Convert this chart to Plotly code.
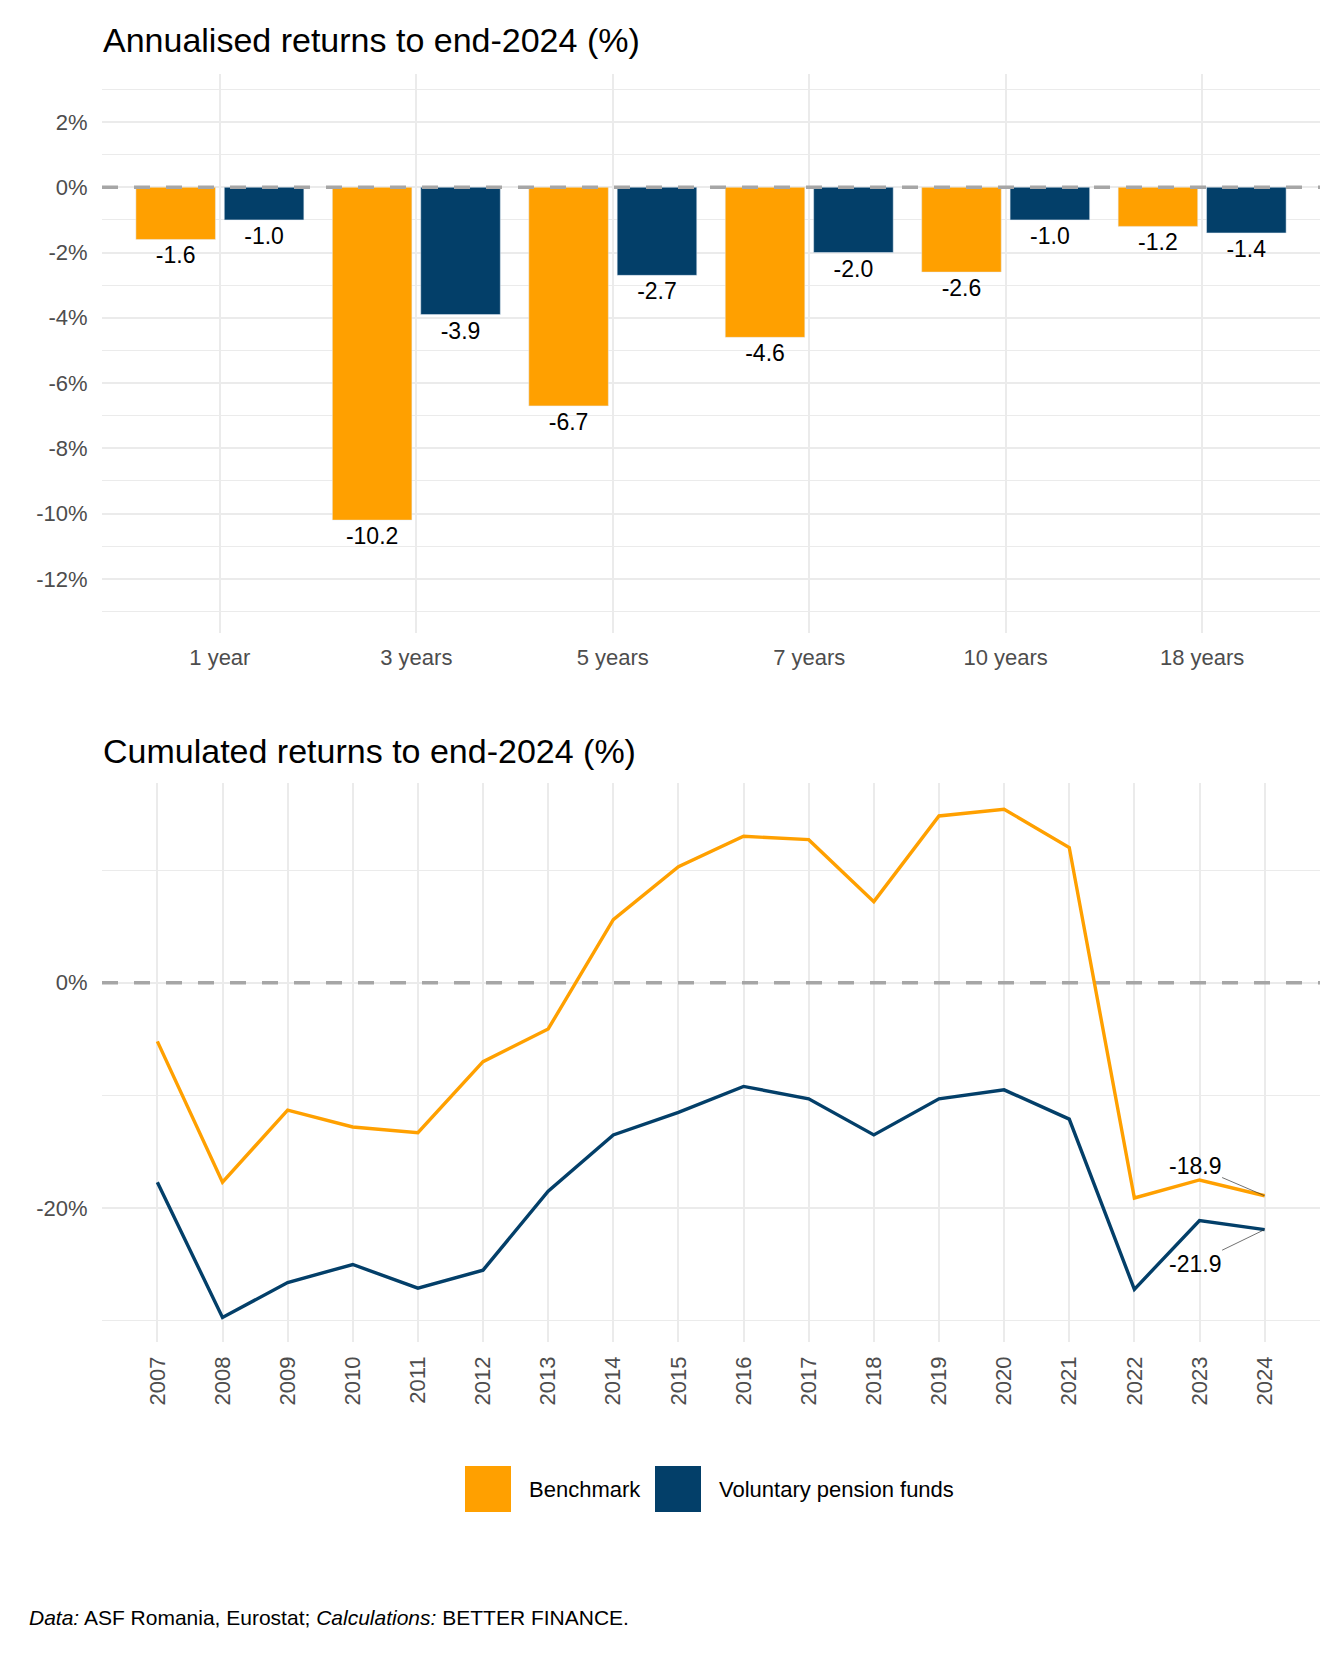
import plotly.graph_objects as go

# ---------------- data ----------------
periods = ["1 year", "3 years", "5 years", "7 years", "10 years", "18 years"]
ann_benchmark = [-1.6, -10.2, -6.7, -4.6, -2.6, -1.2]
ann_vpf = [-1.0, -3.9, -2.7, -2.0, -1.0, -1.4]

years = list(range(2007, 2025))
cum_benchmark = [-5.2, -17.7, -11.3, -12.8, -13.3, -7.0, -4.1, 5.6, 10.3, 13.0,
                 12.7, 7.2, 14.8, 15.4, 12.0, -19.1, -17.5, -18.9]
cum_vpf = [-17.7, -29.7, -26.6, -25.0, -27.1, -25.5, -18.5, -13.5, -11.5, -9.2,
           -10.3, -13.5, -10.3, -9.5, -12.1, -27.2, -21.1, -21.9]

series_names = ["Benchmark", "Voluntary pension funds"]
top_major = [-12, -10, -8, -6, -4, -2, 0, 2]
top_minor = [-13, -11, -9, -7, -5, -3, -1, 1, 3]
bot_major = [-20, 0]
bot_minor = [-30, -10, 10]

# ---------------- style ----------------
OFF = 8  # page body margin compensation
W, H = 1344 - OFF, 1680 - OFF
ORANGE = "#FFA000"
NAVY = "#033F69"
GRID = "#EBEBEB"
TICK = "#4D4D4D"
ZERO = "#A6A6A6"
FONT = "Liberation Sans, Arial, sans-serif"
TOP_YRANGE = [-13.65, 3.47]
BOT_XRANGE = [2006.15, 2024.85]
BOT_YRANGE = [-31.85, 17.7]


def px_x(p):
    return (p - OFF) / W


def px_y(p):
    return 1 - (p - OFF) / H


xdom = [px_x(102), px_x(1320)]
top_dom = [px_y(632.7), px_y(74)]
bot_dom = [px_y(1341.7), px_y(783.3)]

fig = go.Figure()

fig.add_trace(go.Bar(
    x=periods, y=ann_benchmark, name=series_names[0], marker_color=ORANGE,
    text=[f"{v:.1f}" for v in ann_benchmark], textposition="outside",
    textfont=dict(size=23, color="black", family=FONT), cliponaxis=False,
    constraintext="none", xaxis="x", yaxis="y", showlegend=False))
fig.add_trace(go.Bar(
    x=periods, y=ann_vpf, name=series_names[1], marker_color=NAVY,
    text=[f"{v:.1f}" for v in ann_vpf], textposition="outside",
    textfont=dict(size=23, color="black", family=FONT), cliponaxis=False,
    constraintext="none", xaxis="x", yaxis="y", showlegend=False))

# zero reference line for the lower panel (drawn beneath the series lines)
fig.add_trace(go.Scatter(
    x=BOT_XRANGE, y=[0, 0], mode="lines", hoverinfo="skip",
    line=dict(color=ZERO, width=3.5, dash="16px,16px"),
    xaxis="x2", yaxis="y2", showlegend=False))

fig.add_trace(go.Scatter(
    x=years, y=cum_benchmark, mode="lines", name=series_names[0],
    line=dict(color=ORANGE, width=3.4), xaxis="x2", yaxis="y2", showlegend=False))
fig.add_trace(go.Scatter(
    x=years, y=cum_vpf, mode="lines", name=series_names[1],
    line=dict(color=NAVY, width=3.4), xaxis="x2", yaxis="y2", showlegend=False))

tickfont = dict(size=22, color=TICK, family=FONT)

fig.update_layout(
    width=W, height=H,
    margin=dict(l=0, r=0, t=0, b=0),
    paper_bgcolor="white", plot_bgcolor="white",
    font=dict(family=FONT),
    barmode="group", bargap=0.1, bargroupgap=0.1,
    showlegend=False,
    xaxis=dict(domain=xdom, anchor="y", type="category", range=[-0.6, 5.6],
               showgrid=True, gridcolor=GRID, gridwidth=1.8, zeroline=False,
               showline=False, ticks="outside", ticklen=5,
               tickcolor="rgba(0,0,0,0)", tickfont=tickfont),
    yaxis=dict(domain=top_dom, anchor="x", range=TOP_YRANGE,
               tickmode="array", tickvals=top_major,
               ticktext=[f"{v}%" for v in top_major],
               showgrid=True, gridcolor=GRID, gridwidth=1.8, zeroline=False,
               showline=False, ticks="outside", ticklen=9,
               tickcolor="rgba(0,0,0,0)", tickfont=tickfont,
               minor=dict(tickmode="array", tickvals=top_minor, showgrid=True,
                          gridcolor=GRID, gridwidth=1, ticks="")),
    xaxis2=dict(domain=xdom, anchor="y2", range=BOT_XRANGE,
                tickmode="array", tickvals=years, ticktext=[str(y) for y in years],
                tickangle=-90, showgrid=True, gridcolor=GRID, gridwidth=1.8,
                zeroline=False, showline=False, ticks="outside", ticklen=5,
                tickcolor="rgba(0,0,0,0)", tickfont=tickfont),
    yaxis2=dict(domain=bot_dom, anchor="x2", range=BOT_YRANGE,
                tickmode="array", tickvals=bot_major,
                ticktext=[f"{v}%" for v in bot_major],
                showgrid=True, gridcolor=GRID, gridwidth=1.8, zeroline=False,
                showline=False, ticks="outside", ticklen=9,
                tickcolor="rgba(0,0,0,0)", tickfont=tickfont,
                minor=dict(tickmode="array", tickvals=bot_minor, showgrid=True,
                           gridcolor=GRID, gridwidth=1, ticks="")),
)

# zero reference line for the upper panel (drawn over the bars)
fig.add_shape(type="line", xref="x domain", yref="y", x0=0, x1=1, y0=0, y1=0,
              line=dict(color=ZERO, width=3.5, dash="16px,16px"), layer="above")

# titles
fig.add_annotation(text="Annualised returns to end-2024 (%)", xref="paper", yref="paper",
                   x=px_x(101), y=px_y(40), xanchor="left", yanchor="middle",
                   showarrow=False, font=dict(size=34, color="black", family=FONT))
fig.add_annotation(text="Cumulated returns to end-2024 (%)", xref="paper", yref="paper",
                   x=px_x(101), y=px_y(751), xanchor="left", yanchor="middle",
                   showarrow=False, font=dict(size=34, color="black", family=FONT))

# end labels (repel style)
fig.add_annotation(text=f"{cum_benchmark[-1]:.1f}", x=years[-1], y=cum_benchmark[-1],
                   xref="x2", yref="y2", showarrow=True, arrowhead=0, arrowwidth=0.7,
                   arrowcolor="#333333", ax=-70, ay=-30,
                   font=dict(size=23, color="black", family=FONT))
fig.add_annotation(text=f"{cum_vpf[-1]:.1f}", x=years[-1], y=cum_vpf[-1],
                   xref="x2", yref="y2", showarrow=True, arrowhead=0, arrowwidth=0.7,
                   arrowcolor="#333333", ax=-70, ay=34,
                   font=dict(size=23, color="black", family=FONT))

# legend (manual, big square keys)
legend_items = [(series_names[0], ORANGE, 465, 527), (series_names[1], NAVY, 655, 717)]
for name, col, kx, tx in legend_items:
    fig.add_shape(type="rect", xref="paper", yref="paper",
                  x0=px_x(kx), x1=px_x(kx + 46), y0=px_y(1466), y1=px_y(1512),
                  fillcolor=col, line=dict(width=0))
    fig.add_annotation(text=name, xref="paper", yref="paper", x=px_x(tx), y=px_y(1489),
                       xanchor="left", yanchor="middle", showarrow=False,
                       font=dict(size=22, color="black", family=FONT))

# caption
fig.add_annotation(text="<i>Data:</i> ASF Romania, Eurostat; <i>Calculations:</i> BETTER FINANCE.",
                   xref="paper", yref="paper", x=px_x(27), y=px_y(1617),
                   xanchor="left", yanchor="middle", showarrow=False,
                   font=dict(size=21, color="black", family=FONT))

fig.write_html("out.html")
